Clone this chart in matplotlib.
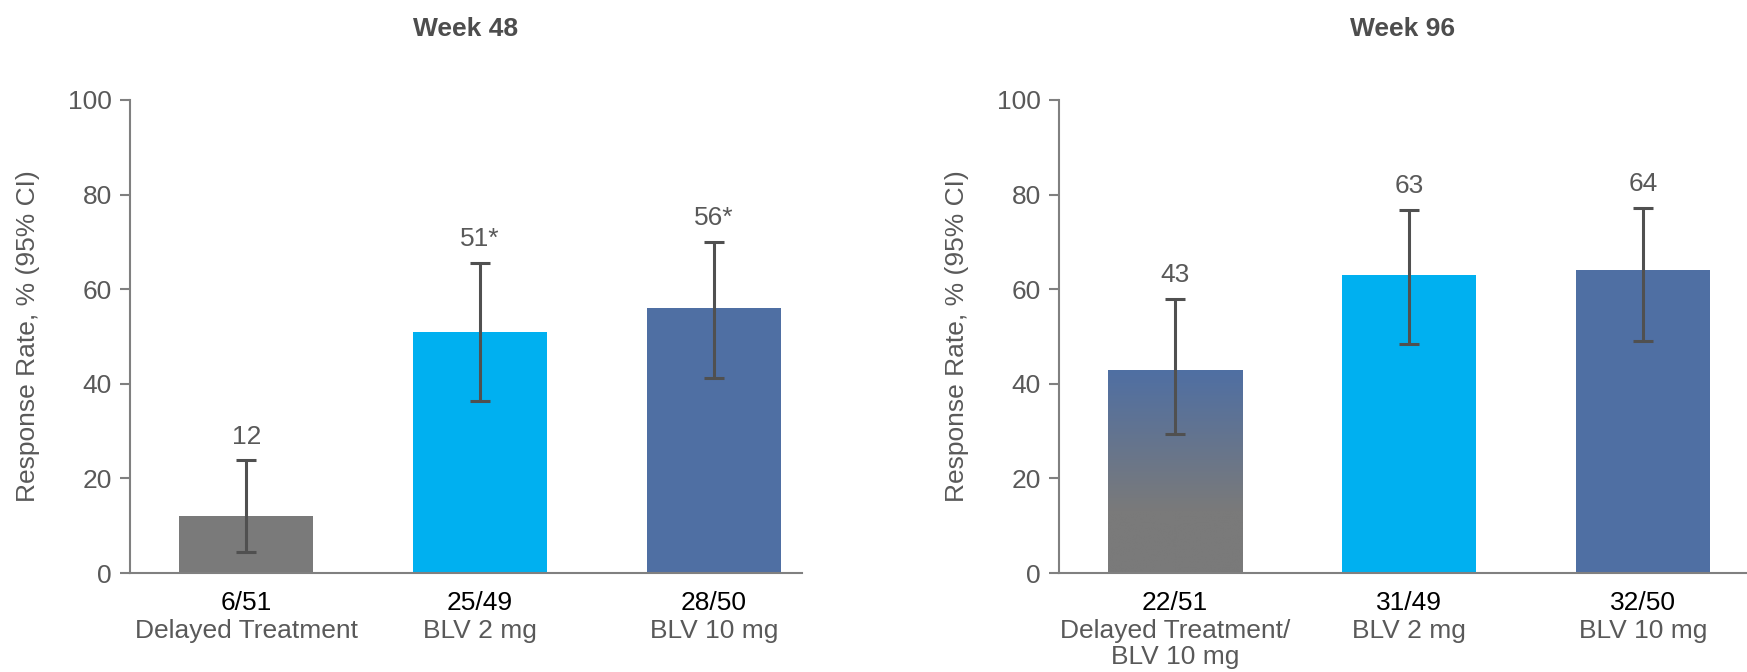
import numpy as np
import matplotlib.pyplot as plt
from matplotlib import transforms
from matplotlib.colors import LinearSegmentedColormap

plt.rcParams['font.family'] = ['Liberation Sans', 'DejaVu Sans']

# data
groups_48 = ["Delayed Treatment", "BLV 2 mg", "BLV 10 mg"]
counts_48 = ["6/51", "25/49", "28/50"]
rate_48 = [12, 51, 56]
lo_48 = [4.4, 36.3, 41.3]
hi_48 = [23.8, 65.6, 70.0]
labels_48 = ["12", "51*", "56*"]

groups_96 = ["Delayed Treatment/\nBLV 10 mg", "BLV 2 mg", "BLV 10 mg"]
counts_96 = ["22/51", "31/49", "32/50"]
rate_96 = [43, 63, 64]
lo_96 = [29.3, 48.4, 49.1]
hi_96 = [57.9, 76.7, 77.1]
labels_96 = ["43", "63", "64"]

GRAY = "#7a7a7a"
LIGHT = "#00b0f0"
DARK = "#4f6fa3"
TXT = "#595959"
FS = 19

fig = plt.figure(figsize=(17.47, 6.72), dpi=100)
ax1 = fig.add_axes([0.0744, 0.1473, 0.3846, 0.704])
ax2 = fig.add_axes([0.606, 0.1473, 0.394, 0.704])


def draw_panel(ax, title, rates, lo, hi, labels, counts, groups, colors, xlim, gradient=False):
    x = np.arange(len(rates))
    bars = ax.bar(x, rates, width=0.575, color=colors, zorder=2)
    if gradient:
        # first bar fades from gray (bottom) into blue (top)
        b = bars[0]
        cmap = LinearSegmentedColormap.from_list("g", [GRAY, DARK])
        yy = np.linspace(0, rates[0], 200)
        t = np.clip((yy - 13) / (rates[0] - 13), 0, 1)
        img = ax.imshow(t[:, None], cmap=cmap, origin="lower", aspect="auto",
                        extent=[b.get_x(), b.get_x() + b.get_width(), 0, rates[0]],
                        zorder=2.5, vmin=0, vmax=1)
        img.set_clip_path(b)
    err = [np.array(rates) - np.array(lo), np.array(hi) - np.array(rates)]
    ax.errorbar(x, rates, yerr=err, fmt="none", ecolor="#505050", elinewidth=2.2,
                capsize=7, capthick=2.2, zorder=3)
    for xi, h, lab in zip(x, hi, labels):
        ax.text(xi, h + 2.5, lab, ha="center", va="bottom", fontsize=FS, color=TXT)
    ax.set_xlim(*xlim)
    ax.set_ylim(0, 100)
    ax.set_yticks([0, 20, 40, 60, 80, 100])
    ax.set_xticks([])
    ax.tick_params(axis="y", labelsize=FS, labelcolor=TXT, color="#808080",
                   length=7, width=1.5, pad=6)
    for s in ["top", "right"]:
        ax.spines[s].set_visible(False)
    for s in ["left", "bottom"]:
        ax.spines[s].set_color("#808080")
        ax.spines[s].set_linewidth(1.5)
    ax.set_ylabel("Response Rate, % (95% CI)", fontsize=FS, color=TXT, labelpad=20)
    trans = transforms.blended_transform_factory(ax.transData, ax.transAxes)
    for xi, c, g in zip(x, counts, groups):
        ax.text(xi, -0.038, c, transform=trans, ha="center", va="top", fontsize=FS,
                color="black")
        ax.text(xi, -0.097, g, transform=trans, ha="center", va="top", fontsize=FS,
                color=TXT, linespacing=1.1)
    ax.set_title(title, fontsize=FS, fontweight="bold", color="#4d4d4d", pad=46)


draw_panel(ax1, "Week 48", rate_48, lo_48, hi_48, labels_48, counts_48, groups_48,
           [GRAY, LIGHT, DARK], (-0.497, 2.376))
draw_panel(ax2, "Week 96", rate_96, lo_96, hi_96, labels_96, counts_96, groups_96,
           [DARK, LIGHT, DARK], (-0.497, 2.444), gradient=True)

fig.savefig("out.png", dpi=100)
